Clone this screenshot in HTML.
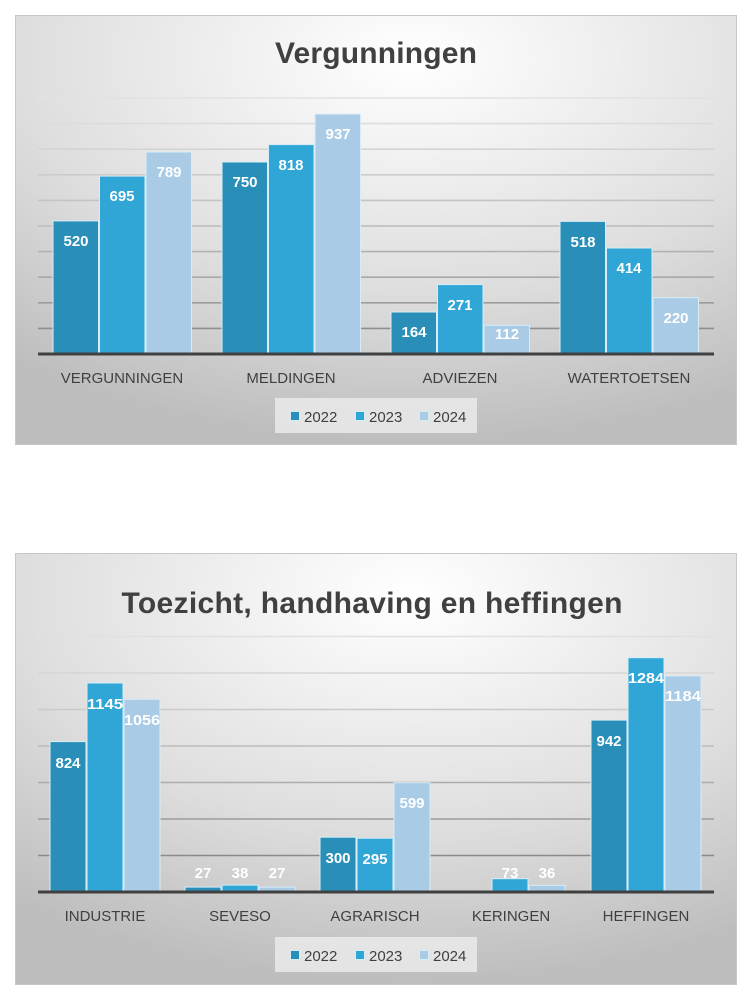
<!DOCTYPE html>
<html><head><meta charset="utf-8"><style>
html,body{margin:0;padding:0;background:#fff;}
svg{display:block;font-family:"Liberation Sans",sans-serif;}
</style></head><body>
<svg width="755" height="992" viewBox="0 0 755 992" xmlns="http://www.w3.org/2000/svg">
<defs>
<radialGradient id="bg" cx="0.55" cy="0.1" r="0.9">
<stop offset="0" stop-color="#ffffff"/><stop offset="0.6" stop-color="#dedede"/><stop offset="1" stop-color="#bdbdbd"/>
</radialGradient>
</defs>
<rect x="0" y="0" width="755" height="992" fill="#fff"/>
<!-- Chart 1 -->
<rect x="15.5" y="15.5" width="721" height="429" fill="url(#bg)" stroke="#c8c8c8"/>
<text x="376" y="63" text-anchor="middle" font-size="30" font-weight="bold" fill="#404040" textLength="202">Vergunningen</text>
<g stroke-width="1.6">
<line x1="38" x2="714" y1="98" y2="98" stroke="#e2e2e2"/>
<line x1="38" x2="714" y1="123.6" y2="123.6" stroke="#dcdcdc"/>
<line x1="38" x2="714" y1="149.2" y2="149.2" stroke="#d4d4d4"/>
<line x1="38" x2="714" y1="174.8" y2="174.8" stroke="#cccccc"/>
<line x1="38" x2="714" y1="200.4" y2="200.4" stroke="#c4c4c4"/>
<line x1="38" x2="714" y1="226" y2="226" stroke="#bbbbbb"/>
<line x1="38" x2="714" y1="251.6" y2="251.6" stroke="#b2b2b2"/>
<line x1="38" x2="714" y1="277.2" y2="277.2" stroke="#a8a8a8"/>
<line x1="38" x2="714" y1="302.8" y2="302.8" stroke="#9c9c9c"/>
<line x1="38" x2="714" y1="328.4" y2="328.4" stroke="#8e8e8e"/>
</g>
<g stroke="#d8ecf6" stroke-width="1">
<rect x="53" y="220.9" width="45.5" height="133.1" fill="#2a8fb8"/>
<rect x="99.5" y="176.1" width="45.5" height="177.9" fill="#2fa6d6"/>
<rect x="146" y="152" width="45.5" height="202" fill="#a9cbe6"/>
<rect x="222" y="162" width="45.5" height="192" fill="#2a8fb8"/>
<rect x="268.5" y="144.6" width="45.5" height="209.4" fill="#2fa6d6"/>
<rect x="315" y="114.1" width="45.5" height="239.9" fill="#a9cbe6"/>
<rect x="391" y="312" width="45.5" height="42" fill="#2a8fb8"/>
<rect x="437.5" y="284.6" width="45.5" height="69.4" fill="#2fa6d6"/>
<rect x="484" y="325.3" width="45.5" height="28.7" fill="#a9cbe6"/>
<rect x="560" y="221.4" width="45.5" height="132.6" fill="#2a8fb8"/>
<rect x="606.5" y="248" width="45.5" height="106" fill="#2fa6d6"/>
<rect x="653" y="297.7" width="45.5" height="56.3" fill="#a9cbe6"/>
</g>
<line x1="38" x2="714" y1="354" y2="354" stroke="#404040" stroke-width="3"/>
<g fill="#fff" font-size="15" font-weight="bold" text-anchor="middle">
<text x="76" y="246">520</text><text x="122" y="201">695</text><text x="169" y="177">789</text>
<text x="245" y="187">750</text><text x="291" y="170">818</text><text x="338" y="139">937</text>
<text x="414" y="337">164</text><text x="460" y="310">271</text><text x="507" y="339">112</text>
<text x="583" y="247">518</text><text x="629" y="273">414</text><text x="676" y="323">220</text>
</g>
<g fill="#404040" font-size="15" text-anchor="middle">
<text x="122" y="383">VERGUNNINGEN</text><text x="291" y="383">MELDINGEN</text>
<text x="460" y="383">ADVIEZEN</text><text x="629" y="383">WATERTOETSEN</text>
</g>
<rect x="275" y="398" width="202" height="35" fill="#ececec" opacity="0.8"/>
<rect x="290.5" y="411.5" width="9" height="9" fill="#2a8fb8" stroke="#d8ecf6"/>
<rect x="355.5" y="411.5" width="9" height="9" fill="#2fa6d6" stroke="#d8ecf6"/>
<rect x="419.5" y="411.5" width="9" height="9" fill="#a9cbe6" stroke="#d8ecf6"/>
<g fill="#404040" font-size="15"><text x="304" y="422">2022</text><text x="369" y="422">2023</text><text x="433" y="422">2024</text></g>

<!-- Chart 2 -->
<rect x="15.5" y="553.5" width="721" height="431" fill="url(#bg)" stroke="#c8c8c8"/>
<text x="372" y="613" text-anchor="middle" font-size="30" font-weight="bold" fill="#404040" textLength="501">Toezicht, handhaving en heffingen</text>
<g stroke-width="1.6">
<line x1="38" x2="714" y1="636.5" y2="636.5" stroke="#e0e0e0"/>
<line x1="38" x2="714" y1="673" y2="673" stroke="#d6d6d6"/>
<line x1="38" x2="714" y1="709.5" y2="709.5" stroke="#cacaca"/>
<line x1="38" x2="714" y1="746" y2="746" stroke="#bcbcbc"/>
<line x1="38" x2="714" y1="782.5" y2="782.5" stroke="#acacac"/>
<line x1="38" x2="714" y1="819" y2="819" stroke="#9c9c9c"/>
<line x1="38" x2="714" y1="855.5" y2="855.5" stroke="#8a8a8a"/>
</g>
<g stroke="#d8ecf6" stroke-width="1">
<rect x="50" y="741.6" width="36" height="150.4" fill="#2a8fb8"/>
<rect x="87" y="683" width="36" height="209" fill="#2fa6d6"/>
<rect x="124" y="699.3" width="36" height="192.7" fill="#a9cbe6"/>
<rect x="185" y="887.1" width="36" height="4.9" fill="#2a8fb8"/>
<rect x="222" y="885.1" width="36" height="6.9" fill="#2fa6d6"/>
<rect x="259" y="887.1" width="36" height="4.9" fill="#a9cbe6"/>
<rect x="320" y="837.2" width="36" height="54.8" fill="#2a8fb8"/>
<rect x="357" y="838.2" width="36" height="53.8" fill="#2fa6d6"/>
<rect x="394" y="782.7" width="36" height="109.3" fill="#a9cbe6"/>
<rect x="492" y="878.7" width="36" height="13.3" fill="#2fa6d6"/>
<rect x="529" y="885.4" width="36" height="6.6" fill="#a9cbe6"/>
<rect x="591" y="720.1" width="36" height="171.9" fill="#2a8fb8"/>
<rect x="628" y="657.7" width="36" height="234.3" fill="#2fa6d6"/>
<rect x="665" y="675.9" width="36" height="216.1" fill="#a9cbe6"/>
</g>
<line x1="38" x2="714" y1="892" y2="892" stroke="#404040" stroke-width="3"/>
<g fill="#fff" font-size="15" font-weight="bold" text-anchor="middle">
<text x="68" y="768">824</text><text x="105" y="709" textLength="36" lengthAdjust="spacingAndGlyphs">1145</text><text x="142" y="725" textLength="36" lengthAdjust="spacingAndGlyphs">1056</text>
<text x="203" y="878">27</text><text x="240" y="878">38</text><text x="277" y="878">27</text>
<text x="338" y="863">300</text><text x="375" y="864">295</text><text x="412" y="808">599</text>
<text x="510" y="878">73</text><text x="547" y="878">36</text>
<text x="609" y="746">942</text><text x="646" y="683" textLength="36" lengthAdjust="spacingAndGlyphs">1284</text><text x="683" y="701" textLength="36" lengthAdjust="spacingAndGlyphs">1184</text>
</g>
<g fill="#404040" font-size="15" text-anchor="middle">
<text x="105" y="921">INDUSTRIE</text><text x="240" y="921">SEVESO</text><text x="375" y="921">AGRARISCH</text>
<text x="511" y="921">KERINGEN</text><text x="646" y="921">HEFFINGEN</text>
</g>
<rect x="275" y="937" width="202" height="35" fill="#ececec" opacity="0.8"/>
<rect x="290.5" y="950.5" width="9" height="9" fill="#2a8fb8" stroke="#d8ecf6"/>
<rect x="355.5" y="950.5" width="9" height="9" fill="#2fa6d6" stroke="#d8ecf6"/>
<rect x="419.5" y="950.5" width="9" height="9" fill="#a9cbe6" stroke="#d8ecf6"/>
<g fill="#404040" font-size="15"><text x="304" y="961">2022</text><text x="369" y="961">2023</text><text x="433" y="961">2024</text></g>
</svg>
</body></html>
